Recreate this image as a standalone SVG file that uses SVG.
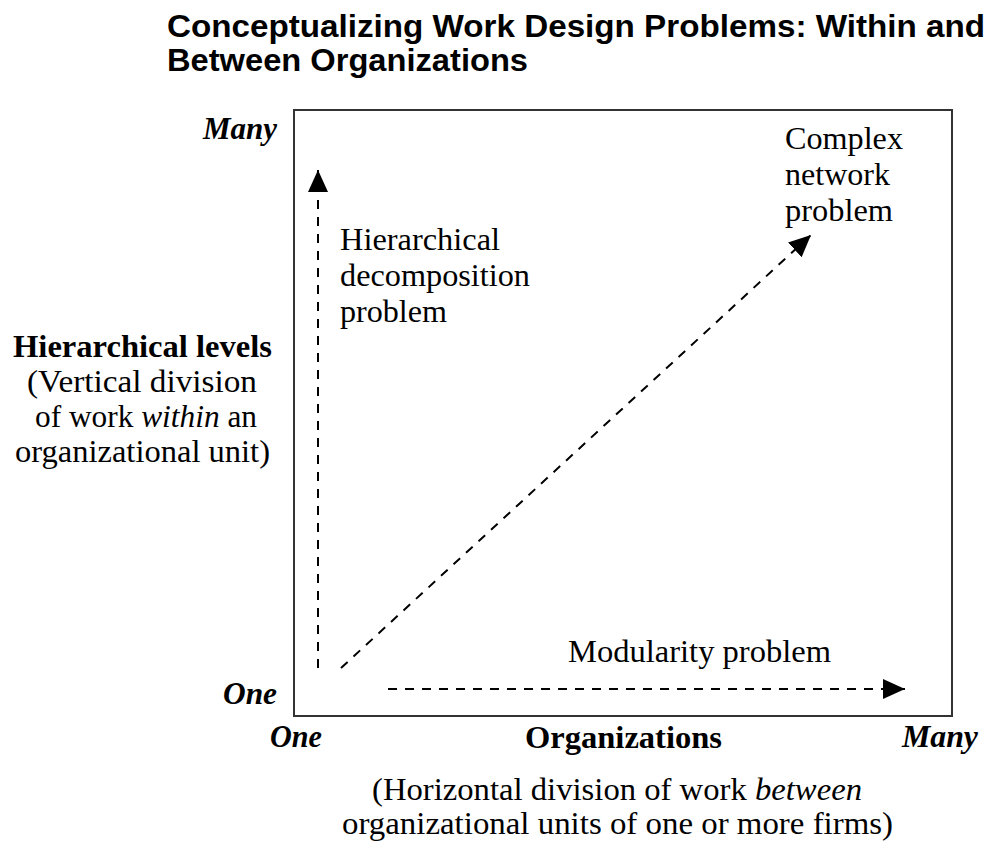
<svg xmlns="http://www.w3.org/2000/svg" width="988" height="842" viewBox="0 0 988 842">
<style>
.t{font-family:"Liberation Sans",Arial,sans-serif;font-weight:bold;font-size:31px;fill:#000}
.s{font-family:"Liberation Serif","Times New Roman",serif;font-size:31px;fill:#000}
.b{font-weight:bold}
.bi{font-weight:bold;font-style:italic}
.dash{fill:none;stroke:#000;stroke-width:2;stroke-dasharray:9 8}
</style>
<defs>
<marker id="ah" markerUnits="userSpaceOnUse" markerWidth="24" markerHeight="20" refX="22" refY="10" orient="auto">
<path d="M0,0 L22,10 L0,20 Z" fill="#000"/>
</marker>
</defs>
<rect width="988" height="842" fill="#fff"/>
<g id="title">
<text class="t" x="167" y="37" textLength="818" lengthAdjust="spacingAndGlyphs">Conceptualizing Work Design Problems: Within and</text>
<text class="t" x="167" y="71" textLength="361" lengthAdjust="spacingAndGlyphs">Between Organizations</text>
</g>
<g id="frame">
<path d="M294,110 H952 V716 H294 Z" fill="none" stroke="#333" stroke-width="2"/>
</g>
<g id="connectors">
<line class="dash" x1="318" y1="668" x2="318" y2="170" marker-end="url(#ah)"/>
<line class="dash" x1="341" y1="668" x2="811" y2="235" marker-end="url(#ah)"/>
<line class="dash" x1="388" y1="689" x2="905" y2="689" marker-end="url(#ah)"/>
</g>
<g id="axis-labels">
<text class="s bi" x="203" y="139" textLength="74" lengthAdjust="spacingAndGlyphs">Many</text>
<text class="s bi" x="223" y="704" textLength="54" lengthAdjust="spacingAndGlyphs">One</text>
<text class="s bi" x="270" y="747" textLength="52" lengthAdjust="spacingAndGlyphs">One</text>
<text class="s b" x="525" y="748" textLength="197" lengthAdjust="spacingAndGlyphs">Organizations</text>
<text class="s bi" x="902" y="747" textLength="76" lengthAdjust="spacingAndGlyphs">Many</text>
</g>
<g id="y-axis-title">
<text class="s b" x="13" y="357" textLength="259" lengthAdjust="spacingAndGlyphs">Hierarchical levels</text>
<text class="s" x="27" y="392" textLength="230" lengthAdjust="spacingAndGlyphs">(Vertical division</text>
<text class="s" x="35" y="427" textLength="222" lengthAdjust="spacingAndGlyphs">of work <tspan font-style="italic">within</tspan> an</text>
<text class="s" x="15" y="462" textLength="255" lengthAdjust="spacingAndGlyphs">organizational unit)</text>
</g>
<g id="x-axis-title">
<text class="s" x="372" y="800" textLength="490" lengthAdjust="spacingAndGlyphs">(Horizontal division of work <tspan font-style="italic">between</tspan></text>
<text class="s" x="342" y="834" textLength="551" lengthAdjust="spacingAndGlyphs">organizational units of one or more firms)</text>
</g>
<g id="hierarchical-decomposition">
<text class="s" x="340" y="250" textLength="160" lengthAdjust="spacingAndGlyphs">Hierarchical</text>
<text class="s" x="340" y="286" textLength="190" lengthAdjust="spacingAndGlyphs">decomposition</text>
<text class="s" x="340" y="322" textLength="107" lengthAdjust="spacingAndGlyphs">problem</text>
</g>
<g id="complex-network">
<text class="s" x="785" y="149" textLength="118" lengthAdjust="spacingAndGlyphs">Complex</text>
<text class="s" x="785" y="185" textLength="105" lengthAdjust="spacingAndGlyphs">network</text>
<text class="s" x="785" y="221" textLength="108" lengthAdjust="spacingAndGlyphs">problem</text>
</g>
<g id="modularity">
<text class="s" x="568" y="662" textLength="263" lengthAdjust="spacingAndGlyphs">Modularity problem</text>
</g>
</svg>
